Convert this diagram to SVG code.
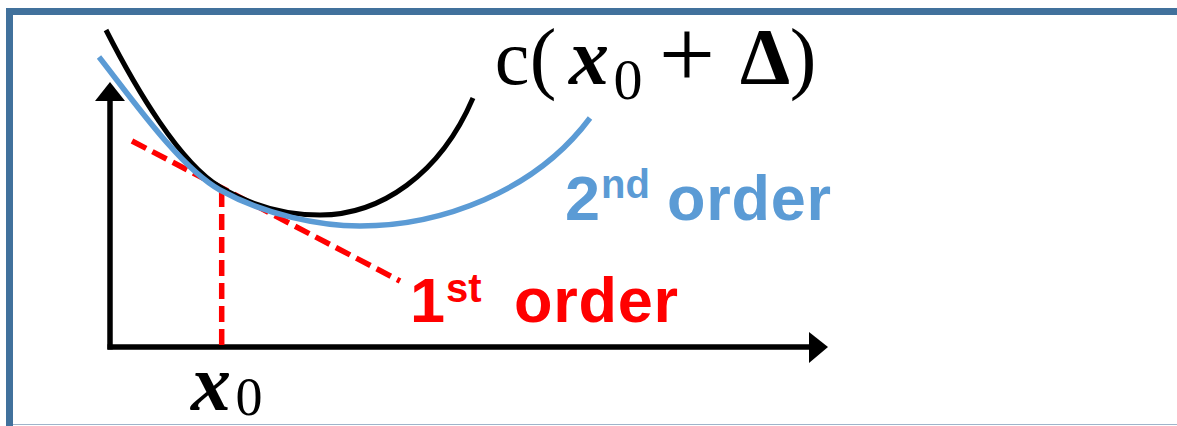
<svg xmlns="http://www.w3.org/2000/svg" width="1177" height="426" viewBox="0 0 1177 426">
<style>
.frame{fill:none;stroke:#41719C;stroke-width:7}
.axis{stroke:#000;stroke-width:5.5;fill:none}
.head{fill:#000}
.dash{stroke:#FF0000;stroke-width:5.5;fill:none;stroke-dasharray:16 7}
.cblack{stroke:#000;stroke-width:5;fill:none}
.cblue{stroke:#5B9BD5;stroke-width:5.5;fill:none}
.math{font-family:"Liberation Serif","Times New Roman",serif;fill:#000;text-anchor:middle}
.lbl{font-family:"Liberation Sans",Arial,sans-serif;font-weight:bold}
.blue{fill:#5B9BD5}
.red{fill:#FF0000}
</style>
<rect width="1177" height="426" fill="#fff"/>
<g id="frame">
<path class="frame" d="M9.5,426 V11.5 H1177"/>
<line x1="13" y1="424.5" x2="1177" y2="424.5" stroke="#9FB4CA" stroke-width="1.2"/>
</g>
<g id="axes">
<line class="axis" x1="110" y1="99" x2="110" y2="349.5"/>
<line class="axis" x1="107.5" y1="347" x2="811" y2="347"/>
<polygon class="head" points="110,82 95,101 125,101"/>
<polygon class="head" points="828,347 809,332 809,363"/>
</g>
<g id="connectors">
<line id="tangent" class="dash" x1="132" y1="141" x2="400" y2="281"/>
<line id="x0-drop" class="dash" x1="221.7" y1="191" x2="221.7" y2="346"/>
<path id="curve-true" class="cblack" d="M106,30 C136,89 180,163 220,187 C255,208 290,215 320,215 C380,215 440,175 473,98"/>
<path id="curve-2nd" class="cblue" d="M99,57 C129,95 180,168 220,190 C265,215 320,226 360,226 C440,226 535,192 590,118"/>
</g>
<g id="label-c">
<text class="math" x="512" y="84" font-size="78">c</text>
<text class="math" x="543" y="84" font-size="80">(</text>
<text class="math" x="589" y="84" font-size="80" font-weight="bold" font-style="italic">x</text>
<text class="math" x="628" y="99" font-size="58">0</text>
<text class="math" x="687" y="88" font-size="100">+</text>
<text class="math" x="765" y="84" font-size="80" font-weight="bold">Δ</text>
<text class="math" x="803" y="84" font-size="80">)</text>
</g>
<g id="label-2nd">
<text class="lbl blue" x="565" y="220" font-size="63">2</text>
<text class="lbl blue" x="601" y="198" font-size="40">nd</text>
<text class="lbl blue" x="667" y="220" font-size="63" textLength="164">order</text>
</g>
<g id="label-1st">
<text class="lbl red" x="410" y="322" font-size="63">1</text>
<text class="lbl red" x="446" y="302" font-size="40">st</text>
<text class="lbl red" x="514" y="322" font-size="63" textLength="164">order</text>
</g>
<g id="label-x0">
<text class="math" x="211" y="410" font-size="80" font-weight="bold" font-style="italic">x</text>
<text class="math" x="249" y="415" font-size="54">0</text>
</g>
</svg>
